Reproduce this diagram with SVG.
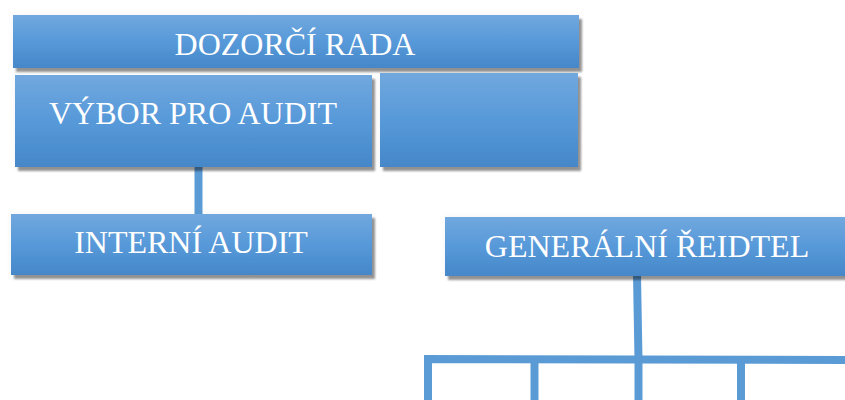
<svg xmlns="http://www.w3.org/2000/svg" width="845" height="400" viewBox="0 0 845 400">
  <defs>
    <linearGradient id="boxFill" x1="0" y1="0" x2="0" y2="1">
      <stop offset="0" stop-color="#71A8DE"/>
      <stop offset="0.5" stop-color="#5799D9"/>
      <stop offset="1" stop-color="#4587C8"/>
    </linearGradient>
    <filter id="drop" x="-5%" y="-20%" width="112%" height="150%">
      <feGaussianBlur in="SourceAlpha" stdDeviation="1.2" result="b"/>
      <feOffset in="b" dx="3" dy="4" result="o"/>
      <feFlood flood-color="#000" flood-opacity="0.42"/>
      <feComposite operator="in" in2="o" result="s"/>
      <feGaussianBlur in="SourceAlpha" stdDeviation="3" result="halo"/>
      <feFlood flood-color="#000" flood-opacity="0.05"/>
      <feComposite operator="in" in2="halo" result="h"/>
      <feMerge>
        <feMergeNode in="h"/>
        <feMergeNode in="s"/>
        <feMergeNode in="SourceGraphic"/>
      </feMerge>
    </filter>
  </defs>
  <style>
    .box { fill: url(#boxFill); filter: url(#drop); }
    .label { font-family: "Liberation Serif", "Times New Roman", serif; font-size: 32px; fill: #FFFFFF; text-anchor: middle; }
    .link { fill: none; stroke: #5B9BD5; stroke-width: 8; }
  </style>

  <rect width="845" height="400" fill="#FFFFFF"/>

  <!-- connectors -->
  <g id="connectors">
    <line class="link" x1="198.5" y1="166" x2="198.5" y2="215"/>
    <line class="link" x1="637" y1="275" x2="638.5" y2="360"/>
    <polyline class="link" points="428,400 428,359 845,360"/>
    <line class="link" x1="534.5" y1="359" x2="534.5" y2="400"/>
    <line class="link" x1="638.5" y1="359" x2="638.5" y2="400"/>
    <line class="link" x1="741" y1="360" x2="741" y2="400"/>
  </g>

  <g id="dozorci-rada">
    <rect class="box" x="13" y="15" width="566" height="53"/>
    <text class="label" x="295" y="55">DOZORČÍ RADA</text>
  </g>

  <g id="vybor-pro-audit">
    <rect class="box" x="15" y="75" width="357" height="92"/>
    <text class="label" x="193" y="124">VÝBOR PRO AUDIT</text>
  </g>

  <g id="empty-box">
    <rect class="box" x="380" y="73" width="198" height="94"/>
  </g>

  <g id="interni-audit">
    <rect class="box" x="11" y="214" width="361" height="61"/>
    <text class="label" x="191" y="253">INTERNÍ AUDIT</text>
  </g>

  <g id="generalni-reditel">
    <rect class="box" x="445" y="217" width="410" height="59"/>
    <text class="label" x="647" y="257">GENERÁLNÍ ŘEIDTEL</text>
  </g>
</svg>
